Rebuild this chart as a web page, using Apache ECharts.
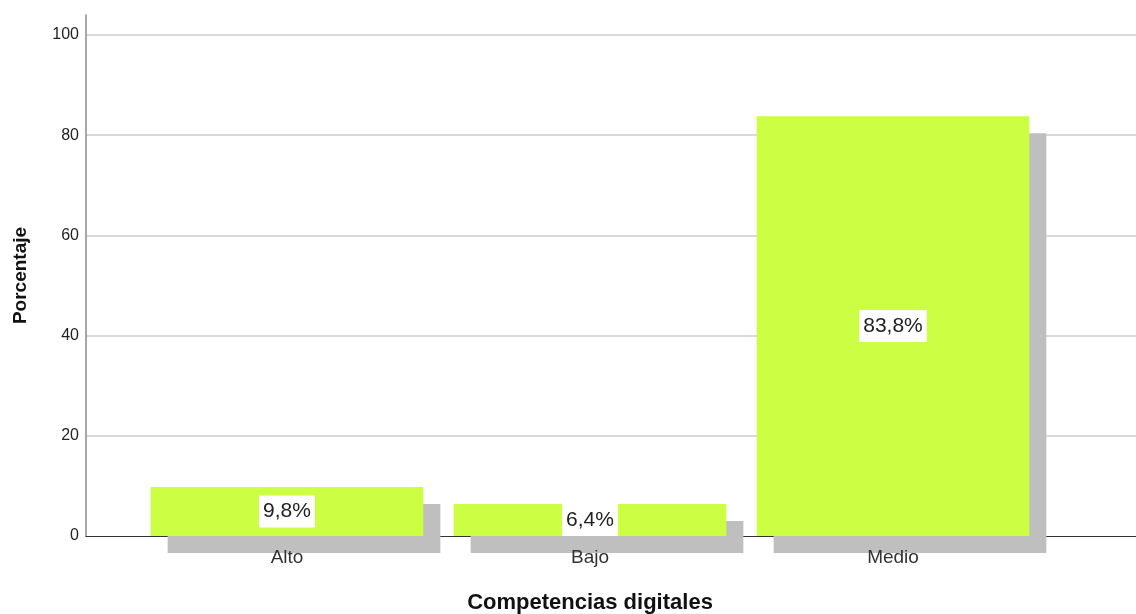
<!DOCTYPE html>
<html>
<head>
<meta charset="utf-8">
<script src="https://cdn.jsdelivr.net/npm/echarts@6/dist/echarts.min.js"></script>
<style>
  html, body { margin: 0; padding: 0; background: #fff; }
  #chart { width: 1136px; height: 614px; }
</style>
</head>
<body>
<div id="chart"></div>
<script>
// Distribución por nivel de competencias digitales (porcentaje)
const categories = ['Alto', 'Bajo', 'Medio'];
const percentages = [9.8, 6.4, 83.8];
const yTicks = [0, 20, 40, 60, 80, 100];

const FONT = '"Liberation Sans", Arial, sans-serif';
const BAR_COLOR = '#ccff44';
const SHADOW_COLOR = '#bfbfbf';
const SHADOW_OFFSET = 17;
const BAR_RATIO = 0.9;

const chart = echarts.init(document.getElementById('chart'), null, { renderer: 'canvas' });

const fmt = v => v.toFixed(1).replace('.', ',') + '%';

chart.setOption({
  animation: false,
  backgroundColor: '#ffffff',
  grid: [
    // full frame: axis lines and gridlines
    { left: 86, right: 0, top: 15, bottom: 78, outerBoundsMode: 'none', containLabel: false },
    // bar area, inset inside the frame
    { left: 135.5, right: 91.5, top: 15, bottom: 78, outerBoundsMode: 'none', containLabel: false }
  ],
  xAxis: [
    {
      gridIndex: 0, type: 'value', min: 0, max: 1,
      axisLine: { show: true, onZero: false, lineStyle: { color: '#333', width: 1.2 } },
      axisTick: { show: false }, axisLabel: { show: false }, splitLine: { show: false }
    },
    {
      gridIndex: 1, type: 'category', data: categories, z: 10,
      axisLine: { show: false }, axisTick: { show: false },
      axisLabel: { fontFamily: FONT, fontSize: 19, color: '#333', margin: 12 },
      name: 'Competencias digitales', nameLocation: 'middle', nameGap: 56,
      nameTextStyle: { fontFamily: FONT, fontSize: 22, fontWeight: 'bold', color: '#111' }
    }
  ],
  yAxis: [
    {
      gridIndex: 0, type: 'value', min: 0, max: 104, interval: 20,
      axisLine: { show: true, lineStyle: { color: '#8a8a8a', width: 1.5 } },
      axisTick: { show: false },
      axisLabel: {
        fontFamily: FONT, fontSize: 16, color: '#222', margin: 7,
        padding: [4, 0, 0, 0],
        showMaxLabel: false,
        formatter: v => (yTicks.includes(v) ? String(v) : '')
      },
      splitLine: { show: true, showMinLine: false, showMaxLine: false,
                   lineStyle: { color: '#cccccc', width: 1.5 } },
      name: 'Porcentaje', nameLocation: 'middle', nameGap: 56, nameRotate: 90,
      nameTextStyle: { fontFamily: FONT, fontSize: 19, fontWeight: 'bold', color: '#111' }
    },
    {
      gridIndex: 1, type: 'value', min: 0, max: 104, show: false
    }
  ],
  series: [
    {
      // drop shadow behind each bar
      type: 'custom', xAxisIndex: 1, yAxisIndex: 1, z: 1, clip: false,
      data: percentages.map((v, i) => [i, v]),
      renderItem: (params, api) => {
        const top = api.coord([api.value(0), api.value(1)]);
        const base = api.coord([api.value(0), 0]);
        const w = api.size([1, 0])[0] * BAR_RATIO;
        return {
          type: 'rect',
          shape: { x: top[0] - w / 2 + SHADOW_OFFSET, y: top[1] + SHADOW_OFFSET,
                   width: w, height: base[1] - top[1] },
          style: { fill: SHADOW_COLOR }
        };
      }
    },
    {
      type: 'bar', xAxisIndex: 1, yAxisIndex: 1, z: 3,
      data: percentages,
      barWidth: (BAR_RATIO * 100) + '%',
      itemStyle: { color: BAR_COLOR },
      label: {
        show: true, position: 'inside',
        formatter: p => fmt(p.value),
        fontFamily: FONT, fontSize: 21, color: '#222', lineHeight: 23,
        backgroundColor: '#ffffff', padding: [5, 4, 4, 4]
      }
    }
  ]
});
</script>
</body>
</html>
